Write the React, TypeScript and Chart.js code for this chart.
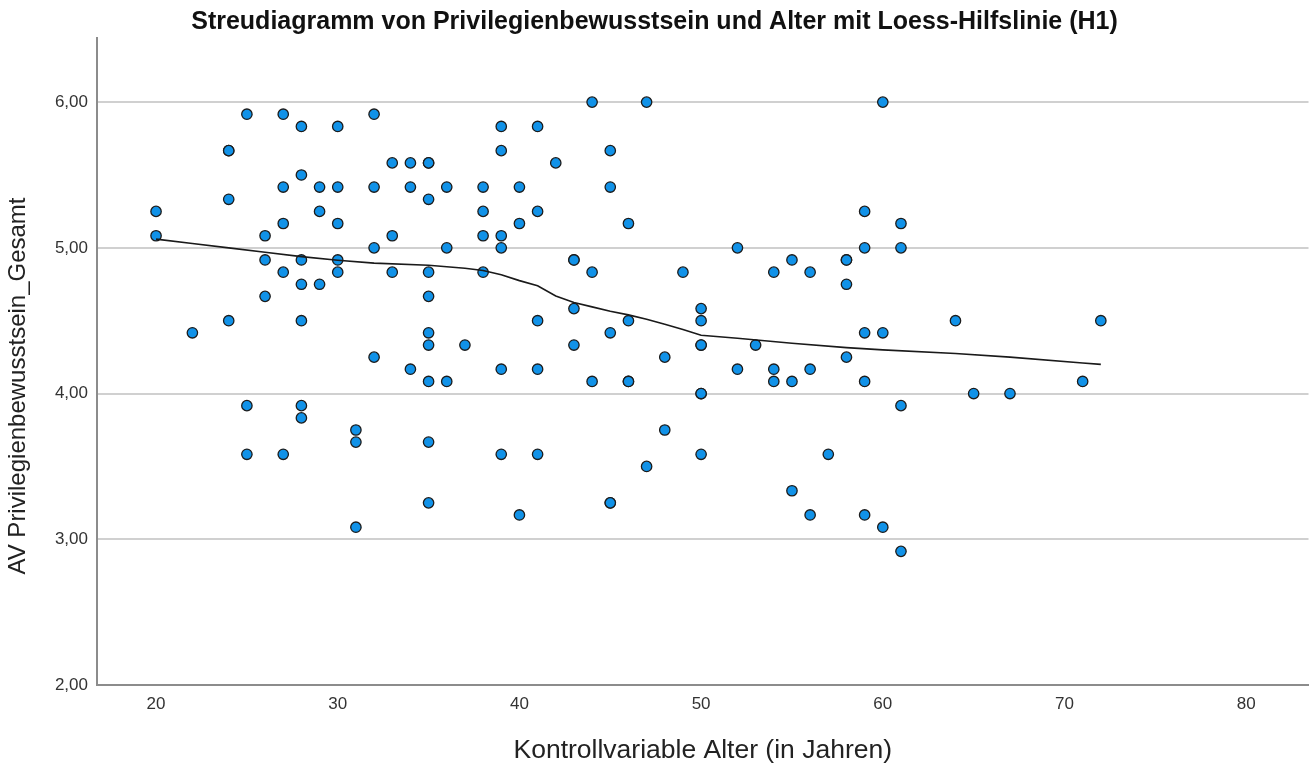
import { useEffect, useRef } from "react";
import { Chart, registerables } from "chart.js";

Chart.register(...registerables);

const chartTitle = "Streudiagramm von Privilegienbewusstsein und Alter mit Loess-Hilfslinie (H1)";
const xAxisTitle = "Kontrollvariable Alter (in Jahren)";
const yAxisTitle = "AV Privilegienbewusstsein_Gesamt";

// Alter (x) and Privilegienbewusstsein (y) per respondent
const ages = [
  20, 20,
  22,
  24, 24, 24, 24,
  25, 25, 25,
  26, 26, 26,
  27, 27, 27, 27, 27,
  28, 28, 28, 28, 28, 28, 28,
  29, 29, 29,
  30, 30, 30, 30, 30,
  31, 31, 31,
  32, 32, 32, 32,
  33, 33, 33,
  34, 34, 34,
  35, 35, 35, 35, 35, 35, 35, 35, 35, 35,
  36, 36, 36,
  37,
  38, 38, 38, 38,
  39, 39, 39, 39, 39, 39,
  40, 40, 40,
  41, 41, 41, 41, 41,
  42,
  43, 43, 43, 43,
  44, 44, 44,
  45, 45, 45, 45, 45,
  46, 46, 46, 46,
  47, 47,
  48, 48,
  49,
  50, 50, 50, 50, 50, 50, 50,
  52, 52,
  53,
  54, 54, 54,
  55, 55, 55,
  56, 56, 56,
  57,
  58, 58, 58, 58,
  59, 59, 59, 59, 59,
  60, 60, 60,
  61, 61, 61, 61,
  64,
  65,
  67,
  71,
  72,
];

const scores = [
  5.25, 5.083,
  4.417,
  5.667, 5.667, 5.333, 4.5,
  5.917, 3.917, 3.583,
  5.083, 4.917, 4.667,
  5.917, 5.417, 5.167, 4.833, 3.583,
  5.833, 5.5, 4.917, 4.75, 4.5, 3.917, 3.833,
  5.417, 5.25, 4.75,
  5.833, 5.417, 5.167, 4.917, 4.833,
  3.75, 3.667, 3.083,
  5.917, 5.417, 5.0, 4.25,
  5.583, 5.083, 4.833,
  5.583, 5.417, 4.167,
  5.583, 5.583, 5.333, 4.833, 4.667, 4.417, 4.333, 4.083, 3.667, 3.25,
  5.417, 5.0, 4.083,
  4.333,
  5.417, 5.25, 5.083, 4.833,
  5.833, 5.667, 5.083, 5.0, 4.167, 3.583,
  5.417, 5.167, 3.167,
  5.833, 5.25, 4.5, 4.167, 3.583,
  5.583,
  4.917, 4.917, 4.583, 4.333,
  6.0, 4.833, 4.083,
  5.667, 5.417, 4.417, 3.25, 3.25,
  5.167, 4.5, 4.083, 4.083,
  6.0, 3.5,
  4.25, 3.75,
  4.833,
  4.583, 4.5, 4.333, 4.333, 4.0, 4.0, 3.583,
  5.0, 4.167,
  4.333,
  4.833, 4.167, 4.083,
  4.917, 4.083, 3.333,
  4.833, 4.167, 3.167,
  3.583,
  4.917, 4.917, 4.75, 4.25,
  5.25, 5.0, 4.417, 4.083, 3.167,
  6.0, 4.417, 3.083,
  5.167, 5.0, 3.917, 2.917,
  4.5,
  4.0,
  4.0,
  4.083,
  4.5,
];

// Loess fit line
const loessAges = [20, 22, 24, 26, 28, 30, 32, 35, 37, 38, 39, 40, 41, 42, 43, 44, 45, 46, 47, 48, 49, 50, 52, 55, 58, 60, 64, 67, 71, 72];
const loessScores = [5.06, 5.03, 5.0, 4.97, 4.94, 4.915, 4.895, 4.88, 4.86, 4.845, 4.815, 4.775, 4.74, 4.67, 4.625, 4.595, 4.565, 4.54, 4.51, 4.475, 4.44, 4.4, 4.38, 4.345, 4.315, 4.3, 4.275, 4.25, 4.21, 4.2];

const xMin = 16.75;
const xMax = 83.43;
const xStep = 10;
const yMin = 2;
const yMax = 6.44;
const yStep = 1;

const FONT = "'Liberation Sans', Arial, sans-serif";

const yTitlePlugin = {
  id: "yTitleText",
  afterDraw(chart: any) {
    const ctx = chart.ctx;
    ctx.save();
    ctx.translate(18, 386);
    ctx.rotate(-Math.PI / 2);
    ctx.font = `24px ${FONT}`;
    ctx.fillStyle = "#222";
    ctx.textAlign = "center";
    ctx.textBaseline = "middle";
    ctx.fillText(yAxisTitle, 0, 0);
    ctx.restore();
  },
};

export default function App() {
  const canvasRef = useRef<HTMLCanvasElement | null>(null);

  useEffect(() => {
    document.body.style.margin = "0";
    const canvas = canvasRef.current;
    if (!canvas) return;

    const scatterData = ages.map((a, i) => ({ x: a, y: scores[i] }));
    const loessData = loessAges.map((a, i) => ({ x: a, y: loessScores[i] }));

    const chart = new Chart(canvas, {
      type: "scatter",
      data: {
        datasets: [
          {
            type: "line",
            label: "Loess",
            data: loessData,
            borderColor: "#1a1a1a",
            borderWidth: 1.6,
            pointRadius: 0,
            fill: false,
            tension: 0,
            order: 0,
          } as any,
          {
            type: "scatter",
            label: "Werte",
            data: scatterData,
            backgroundColor: "#1192e8",
            borderColor: "#1c1c1c",
            borderWidth: 1.3,
            pointRadius: 5.2,
            order: 1,
          },
        ],
      },
      plugins: [yTitlePlugin],
      options: {
        animation: false,
        responsive: true,
        maintainAspectRatio: false,
        layout: { padding: { left: 0, right: 6, top: 0, bottom: 0 } },
        plugins: {
          legend: { display: false },
          tooltip: { enabled: false },
          title: {
            display: true,
            text: chartTitle,
            color: "#111",
            font: { family: FONT, size: 25, weight: "bold", lineHeight: 1.2 },
            padding: { top: 7.5, bottom: 0.5 },
          },
        },
        scales: {
          x: {
            type: "linear",
            min: xMin,
            max: xMax,
            grid: { display: false, drawTicks: false },
            border: { display: true, color: "#8c8c8c", width: 2 },
            ticks: {
              stepSize: xStep,
              includeBounds: false,
              color: "#333",
              padding: 9,
              font: { family: FONT, size: 17 },
              callback: (v: any) => String(v),
            },
            title: {
              display: true,
              text: xAxisTitle,
              color: "#222",
              font: { family: FONT, size: 26.5, lineHeight: 1.2 },
              padding: { top: 0, bottom: 0 },
            },
            afterFit: (scale: any) => {
              scale.height = 82;
            },
          },
          y: {
            type: "linear",
            min: yMin,
            max: yMax,
            grid: { display: true, drawTicks: false, color: "#d0d0d0", lineWidth: 2 },
            border: { display: true, color: "#8c8c8c", width: 2 },
            ticks: {
              stepSize: yStep,
              includeBounds: false,
              color: "#333",
              padding: 9,
              font: { family: FONT, size: 17 },
              callback: (v: any) => Number(v).toFixed(2).replace(".", ","),
            },
            title: { display: false },
            afterFit: (scale: any) => {
              scale.width = 97;
            },
          },
        },
      },
    });

    return () => {
      chart.destroy();
    };
  }, []);

  return (
    <div style={{ position: "fixed", left: 0, top: 0, width: 1315, height: 767, background: "#fff" }}>
      <canvas ref={canvasRef} />
    </div>
  );
}
